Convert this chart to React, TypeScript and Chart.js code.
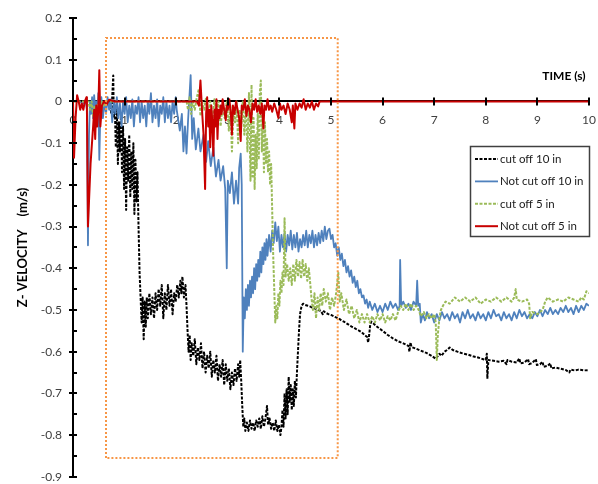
import React, { useEffect, useRef } from 'react';
import { Chart, registerables } from 'chart.js';

Chart.register(...registerables);

const seriesLabels = ['cut off 10 in', 'Not cut off 10 in', 'cut off 5 in', 'Not cut off 5 in'];
const xTickValues = [0, 1, 2, 3, 4, 5, 6, 7, 8, 9, 10];
const yTickValues = [0.2, 0.1, 0, -0.1, -0.2, -0.3, -0.4, -0.5, -0.6, -0.7, -0.8, -0.9];
const xTitle = 'TIME (s)';
const yTitle = 'Z- VELOCITY    (m/s)';

// dotted highlight rectangle (time, velocity)
const highlightBox: [number, number][] = [[0.64, -0.855], [0.64, 0.152], [5.13, 0.152], [5.13, -0.855], [0.64, -0.855]];

// cut off 10 in (black dashed)
const cutOff10In: [number, number][] = [
  [0.72, 0.0], [0.74, -0.03], [0.76, 0.01], [0.78, 0.062], [0.79, -0.04], [0.81, -0.01], [0.83, -0.11], [0.85, -0.02], [0.87, -0.15], [0.89, -0.05],
  [0.91, -0.12], [0.93, -0.03], [0.95, -0.17], [0.97, -0.06], [0.99, -0.21], [1.01, -0.09], [1.03, -0.26], [1.05, -0.11], [1.07, -0.19], [1.09, -0.08],
  [1.11, -0.23], [1.13, -0.12], [1.15, -0.21], [1.17, -0.1], [1.19, -0.27], [1.21, -0.14], [1.23, -0.24], [1.25, -0.17], [1.27, -0.3], [1.29, -0.41],
  [1.31, -0.47], [1.33, -0.53], [1.35, -0.47], [1.37, -0.57], [1.39, -0.48], [1.41, -0.54], [1.43, -0.47], [1.45, -0.52], [1.48, -0.46], [1.51, -0.51],
  [1.54, -0.47], [1.57, -0.52], [1.6, -0.46], [1.63, -0.5], [1.66, -0.45], [1.69, -0.49], [1.72, -0.44], [1.75, -0.52], [1.78, -0.46], [1.81, -0.5],
  [1.84, -0.44], [1.87, -0.49], [1.9, -0.45], [1.93, -0.51], [1.96, -0.46], [1.99, -0.48], [2.02, -0.44], [2.05, -0.47], [2.08, -0.43], [2.1, -0.46],
  [2.12, -0.42], [2.15, -0.47], [2.18, -0.44], [2.2, -0.49], [2.22, -0.55], [2.24, -0.6], [2.26, -0.56], [2.28, -0.62], [2.3, -0.58], [2.33, -0.61],
  [2.36, -0.57], [2.39, -0.63], [2.42, -0.59], [2.45, -0.62], [2.48, -0.58], [2.51, -0.64], [2.54, -0.6], [2.57, -0.65], [2.6, -0.61], [2.63, -0.64],
  [2.66, -0.6], [2.69, -0.66], [2.72, -0.62], [2.75, -0.65], [2.78, -0.61], [2.81, -0.67], [2.84, -0.63], [2.87, -0.66], [2.9, -0.62], [2.93, -0.68],
  [2.96, -0.63], [2.99, -0.67], [3.02, -0.64], [3.05, -0.69], [3.08, -0.65], [3.11, -0.68], [3.14, -0.64], [3.17, -0.67], [3.2, -0.63], [3.22, -0.66],
  [3.24, -0.62], [3.26, -0.67], [3.28, -0.73], [3.3, -0.78], [3.32, -0.76], [3.34, -0.79], [3.37, -0.77], [3.4, -0.79], [3.43, -0.765], [3.46, -0.785],
  [3.49, -0.77], [3.52, -0.79], [3.55, -0.765], [3.58, -0.78], [3.61, -0.76], [3.64, -0.785], [3.67, -0.755], [3.7, -0.78], [3.73, -0.76], [3.76, -0.73],
  [3.78, -0.775], [3.81, -0.76], [3.84, -0.785], [3.87, -0.77], [3.9, -0.79], [3.93, -0.765], [3.96, -0.79], [3.99, -0.775], [4.02, -0.8], [4.04, -0.78],
  [4.06, -0.74], [4.08, -0.78], [4.1, -0.7], [4.12, -0.76], [4.14, -0.69], [4.16, -0.75], [4.18, -0.66], [4.2, -0.72], [4.22, -0.68], [4.24, -0.74],
  [4.26, -0.69], [4.28, -0.73], [4.3, -0.67], [4.32, -0.71], [4.34, -0.65], [4.36, -0.6], [4.38, -0.55], [4.4, -0.51], [4.43, -0.49], [4.46, -0.485],
  [4.5, -0.488], [4.55, -0.49], [4.6, -0.492], [4.65, -0.495], [4.7, -0.497], [4.75, -0.5], [4.8, -0.502], [4.84, -0.51], [4.86, -0.503], [4.9, -0.507],
  [4.95, -0.51], [5.0, -0.512], [5.05, -0.515], [5.1, -0.518], [5.15, -0.52], [5.2, -0.525], [5.25, -0.528], [5.3, -0.532], [5.35, -0.536], [5.4, -0.54],
  [5.45, -0.543], [5.5, -0.547], [5.55, -0.55], [5.6, -0.554], [5.65, -0.56], [5.7, -0.565], [5.72, -0.578], [5.74, -0.56], [5.76, -0.535], [5.78, -0.528],
  [5.82, -0.532], [5.86, -0.537], [5.9, -0.541], [6.0, -0.55], [6.1, -0.56], [6.2, -0.568], [6.3, -0.575], [6.4, -0.58], [6.5, -0.586], [6.52, -0.6],
  [6.54, -0.578], [6.56, -0.589], [6.65, -0.593], [6.75, -0.598], [6.85, -0.603], [6.95, -0.61], [7.03, -0.617], [7.06, -0.612], [7.1, -0.605], [7.14, -0.61],
  [7.2, -0.6], [7.26, -0.595], [7.3, -0.59], [7.36, -0.596], [7.45, -0.6], [7.55, -0.604], [7.65, -0.607], [7.75, -0.611], [7.85, -0.614], [7.95, -0.618],
  [8.0, -0.62], [8.02, -0.605], [8.03, -0.665], [8.05, -0.62], [8.15, -0.622], [8.25, -0.624], [8.35, -0.622], [8.4, -0.63], [8.42, -0.62], [8.5, -0.624],
  [8.6, -0.626], [8.65, -0.616], [8.67, -0.628], [8.75, -0.626], [8.82, -0.618], [8.84, -0.63], [8.9, -0.627], [8.97, -0.618], [8.99, -0.632], [9.05, -0.63],
  [9.1, -0.624], [9.12, -0.636], [9.2, -0.634], [9.25, -0.628], [9.27, -0.64], [9.35, -0.638], [9.45, -0.641], [9.55, -0.644], [9.62, -0.65], [9.64, -0.643],
  [9.72, -0.645], [9.8, -0.643], [9.9, -0.645], [10.0, -0.644],
];

// Not cut off 10 in (blue solid)
const notCutOff10In: [number, number][] = [
  [0, 0], [0.1, 0.0], [0.2, -0.005], [0.25, 0.0], [0.27, -0.02], [0.29, -0.345], [0.31, -0.08], [0.33, 0.0], [0.35, -0.03], [0.37, 0.01],
  [0.39, -0.04], [0.41, 0.015], [0.43, -0.02], [0.45, 0.0], [0.47, -0.05], [0.49, 0.02], [0.51, -0.14], [0.53, -0.03], [0.55, 0.01], [0.58, -0.04],
  [0.61, 0.0], [0.64, -0.03], [0.67, 0.01], [0.7, -0.02], [0.73, 0.005], [0.76, -0.05], [0.79, 0.0], [0.82, -0.03], [0.85, 0.01], [0.88, -0.04],
  [0.91, -0.005], [0.94, -0.06], [0.97, 0.0], [1.0, -0.03], [1.03, 0.01], [1.06, -0.05], [1.09, -0.01], [1.12, -0.04], [1.15, 0.005], [1.18, -0.06],
  [1.21, -0.01], [1.24, -0.03], [1.27, 0.01], [1.3, -0.05], [1.33, 0.0], [1.36, -0.04], [1.39, -0.01], [1.42, -0.06], [1.45, 0.0], [1.48, -0.03],
  [1.51, 0.02], [1.54, -0.05], [1.57, -0.01], [1.6, -0.04], [1.63, 0.005], [1.66, -0.06], [1.69, -0.01], [1.72, -0.03], [1.75, 0.01], [1.78, -0.05],
  [1.81, 0.0], [1.84, -0.04], [1.87, -0.01], [1.9, -0.05], [1.93, 0.0], [1.96, -0.03], [1.99, 0.01], [2.01, -0.02], [2.07, -0.07], [2.11, -0.03],
  [2.14, -0.12], [2.17, -0.06], [2.2, -0.125], [2.23, -0.045], [2.28, 0.063], [2.31, -0.09], [2.34, -0.04], [2.38, -0.115], [2.43, -0.065], [2.47, -0.12],
  [2.53, -0.08], [2.58, -0.145], [2.62, -0.095], [2.67, -0.155], [2.72, -0.11], [2.77, -0.18], [2.82, -0.14], [2.86, -0.19], [2.91, -0.155], [2.95, -0.21],
  [2.98, -0.4], [3.0, -0.19], [3.04, -0.22], [3.08, -0.17], [3.12, -0.245], [3.16, -0.19], [3.2, -0.245], [3.22, -0.16], [3.25, -0.125], [3.27, -0.2],
  [3.29, -0.6], [3.31, -0.47], [3.33, -0.52], [3.35, -0.45], [3.37, -0.5], [3.39, -0.44], [3.41, -0.49], [3.43, -0.43], [3.45, -0.47], [3.47, -0.42],
  [3.49, -0.46], [3.51, -0.4], [3.53, -0.45], [3.55, -0.39], [3.57, -0.43], [3.59, -0.38], [3.61, -0.42], [3.63, -0.36], [3.65, -0.41], [3.67, -0.35],
  [3.69, -0.39], [3.71, -0.34], [3.73, -0.38], [3.75, -0.33], [3.77, -0.37], [3.8, -0.32], [3.83, -0.36], [3.86, -0.31], [3.89, -0.34], [3.92, -0.29],
  [3.95, -0.335], [3.98, -0.3], [4.01, -0.36], [4.04, -0.32], [4.07, -0.35], [4.1, -0.315], [4.13, -0.36], [4.16, -0.32], [4.19, -0.345], [4.22, -0.31],
  [4.25, -0.355], [4.28, -0.32], [4.31, -0.35], [4.34, -0.315], [4.37, -0.36], [4.4, -0.33], [4.43, -0.35], [4.46, -0.32], [4.49, -0.345], [4.52, -0.31],
  [4.55, -0.35], [4.58, -0.32], [4.61, -0.34], [4.64, -0.31], [4.67, -0.35], [4.7, -0.32], [4.73, -0.345], [4.76, -0.315], [4.79, -0.34], [4.82, -0.31],
  [4.85, -0.335], [4.88, -0.3], [4.91, -0.33], [4.94, -0.31], [4.97, -0.305], [5.0, -0.33], [5.03, -0.32], [5.06, -0.35], [5.09, -0.34], [5.12, -0.37],
  [5.15, -0.35], [5.18, -0.38], [5.21, -0.365], [5.24, -0.395], [5.27, -0.38], [5.3, -0.41], [5.33, -0.395], [5.36, -0.42], [5.39, -0.405], [5.42, -0.435],
  [5.45, -0.42], [5.48, -0.445], [5.51, -0.43], [5.54, -0.46], [5.57, -0.45], [5.6, -0.47], [5.63, -0.465], [5.66, -0.485], [5.69, -0.475], [5.72, -0.495],
  [5.75, -0.48], [5.8, -0.5], [5.85, -0.485], [5.9, -0.505], [5.95, -0.49], [6.0, -0.505], [6.05, -0.485], [6.1, -0.5], [6.15, -0.48], [6.2, -0.495],
  [6.25, -0.485], [6.3, -0.5], [6.33, -0.49], [6.34, -0.38], [6.36, -0.49], [6.4, -0.48], [6.45, -0.495], [6.5, -0.485], [6.55, -0.5], [6.6, -0.48],
  [6.65, -0.49], [6.67, -0.43], [6.69, -0.49], [6.72, -0.485], [6.74, -0.53], [6.78, -0.51], [6.82, -0.525], [6.86, -0.505], [6.9, -0.52], [6.95, -0.51],
  [7.0, -0.53], [7.05, -0.51], [7.1, -0.525], [7.15, -0.505], [7.2, -0.52], [7.25, -0.51], [7.3, -0.525], [7.35, -0.505], [7.4, -0.52], [7.45, -0.51],
  [7.5, -0.53], [7.55, -0.505], [7.6, -0.52], [7.65, -0.5], [7.7, -0.52], [7.75, -0.51], [7.8, -0.525], [7.85, -0.505], [7.9, -0.52], [7.95, -0.51],
  [8.0, -0.525], [8.05, -0.505], [8.1, -0.52], [8.15, -0.5], [8.2, -0.515], [8.25, -0.51], [8.3, -0.525], [8.35, -0.505], [8.4, -0.52], [8.45, -0.51],
  [8.5, -0.525], [8.55, -0.505], [8.6, -0.52], [8.65, -0.5], [8.7, -0.515], [8.75, -0.505], [8.8, -0.52], [8.85, -0.51], [8.9, -0.52], [8.95, -0.505],
  [9.0, -0.515], [9.05, -0.5], [9.1, -0.515], [9.15, -0.5], [9.2, -0.51], [9.25, -0.495], [9.3, -0.51], [9.35, -0.5], [9.4, -0.51], [9.45, -0.495],
  [9.5, -0.505], [9.55, -0.49], [9.6, -0.505], [9.65, -0.495], [9.7, -0.51], [9.75, -0.49], [9.8, -0.505], [9.85, -0.49], [9.9, -0.5], [9.95, -0.485],
  [10.0, -0.49],
];

// cut off 5 in (green dashed)
const cutOff5In: [number, number][] = [
  [0, 0], [0.3, 0], [0.33, -0.02], [0.36, 0.0], [0.39, -0.035], [0.42, -0.01], [0.45, -0.04], [0.48, -0.005], [0.52, -0.03], [0.56, 0.0],
  [0.6, -0.01], [0.65, 0.0], [2.2, 0.0], [2.23, -0.02], [2.26, 0.01], [2.29, -0.03], [2.32, 0.0], [2.36, -0.02], [2.4, 0.01], [2.44, 0.03],
  [2.47, -0.035], [2.5, 0.0], [2.54, -0.02], [2.58, 0.01], [2.62, -0.03], [2.66, 0.0], [2.7, -0.05], [2.74, 0.005], [2.78, -0.03], [2.82, 0.0],
  [2.86, -0.06], [2.9, -0.01], [2.94, -0.04], [2.98, 0.0], [3.02, -0.07], [3.05, -0.01], [3.08, -0.12], [3.11, -0.02], [3.14, -0.05], [3.17, 0.0],
  [3.2, -0.1], [3.23, -0.02], [3.26, -0.06], [3.29, 0.0], [3.32, -0.08], [3.35, -0.01], [3.38, -0.12], [3.41, 0.02], [3.44, -0.19], [3.46, 0.04],
  [3.48, -0.18], [3.5, -0.04], [3.52, -0.21], [3.54, -0.08], [3.56, -0.16], [3.58, -0.03], [3.6, -0.14], [3.62, 0.02], [3.64, 0.05], [3.66, -0.12],
  [3.68, -0.02], [3.7, -0.17], [3.72, -0.05], [3.74, -0.15], [3.76, -0.09], [3.78, -0.17], [3.8, -0.12], [3.82, -0.2], [3.84, -0.15], [3.86, -0.26],
  [3.88, -0.37], [3.9, -0.45], [3.92, -0.53], [3.94, -0.49], [3.96, -0.52], [3.98, -0.46], [4.0, -0.49], [4.02, -0.43], [4.04, -0.46], [4.06, -0.41],
  [4.08, -0.44], [4.1, -0.28], [4.12, -0.42], [4.15, -0.39], [4.18, -0.43], [4.21, -0.4], [4.24, -0.44], [4.27, -0.39], [4.3, -0.43], [4.33, -0.38],
  [4.36, -0.42], [4.39, -0.385], [4.42, -0.425], [4.45, -0.38], [4.48, -0.42], [4.51, -0.39], [4.54, -0.43], [4.57, -0.4], [4.6, -0.44], [4.62, -0.47],
  [4.65, -0.5], [4.68, -0.46], [4.71, -0.52], [4.74, -0.47], [4.77, -0.5], [4.8, -0.46], [4.83, -0.49], [4.86, -0.45], [4.9, -0.48], [4.94, -0.46],
  [4.98, -0.5], [5.02, -0.47], [5.06, -0.49], [5.1, -0.46], [5.14, -0.41], [5.17, -0.48], [5.2, -0.46], [5.25, -0.5], [5.3, -0.475], [5.35, -0.51],
  [5.4, -0.49], [5.45, -0.52], [5.5, -0.5], [5.55, -0.53], [5.6, -0.51], [5.65, -0.53], [5.7, -0.51], [5.75, -0.53], [5.8, -0.515], [5.85, -0.53],
  [5.9, -0.51], [5.95, -0.525], [6.0, -0.51], [6.05, -0.53], [6.1, -0.515], [6.15, -0.525], [6.2, -0.51], [6.25, -0.525], [6.3, -0.505], [6.35, -0.49],
  [6.4, -0.5], [6.45, -0.485], [6.5, -0.5], [6.55, -0.485], [6.6, -0.5], [6.65, -0.49], [6.7, -0.5], [6.74, -0.515], [6.8, -0.505], [6.85, -0.52],
  [6.9, -0.51], [6.95, -0.52], [7.0, -0.51], [7.03, -0.53], [7.05, -0.62], [7.07, -0.56], [7.1, -0.52], [7.13, -0.5], [7.17, -0.49], [7.22, -0.48],
  [7.3, -0.485], [7.4, -0.47], [7.5, -0.48], [7.6, -0.47], [7.7, -0.48], [7.8, -0.47], [7.9, -0.485], [8.0, -0.475], [8.1, -0.48], [8.2, -0.47],
  [8.3, -0.48], [8.4, -0.47], [8.5, -0.48], [8.55, -0.47], [8.58, -0.45], [8.6, -0.475], [8.7, -0.48], [8.8, -0.475], [8.84, -0.485], [8.86, -0.52],
  [8.9, -0.505], [9.0, -0.51], [9.1, -0.5], [9.15, -0.48], [9.2, -0.47], [9.3, -0.48], [9.4, -0.475], [9.5, -0.48], [9.6, -0.47], [9.7, -0.475],
  [9.8, -0.48], [9.85, -0.47], [9.9, -0.475], [9.95, -0.455], [10.0, -0.46],
];

// Not cut off 5 in (red solid)
const notCutOff5In: [number, number][] = [
  [0, 0], [0.02, -0.135], [0.05, -0.04], [0.08, 0.015], [0.11, 0.0], [0.14, -0.02], [0.17, -0.005], [0.2, -0.02], [0.23, 0.0], [0.26, 0.01],
  [0.27, -0.02], [0.29, -0.3], [0.34, -0.15], [0.39, -0.06], [0.41, -0.02], [0.43, -0.09], [0.45, -0.01], [0.47, -0.06], [0.49, -0.02], [0.51, 0.075],
  [0.53, -0.06], [0.56, -0.01], [0.6, 0.0], [0.65, -0.008], [0.7, 0.004], [0.8, 0.0], [1.2, 0.0], [1.8, 0.0], [2.4, 0.0], [2.44, -0.01],
  [2.47, 0.05], [2.5, -0.02], [2.53, -0.08], [2.56, -0.21], [2.58, -0.03], [2.6, 0.01], [2.62, -0.06], [2.64, -0.02], [2.66, -0.11], [2.68, -0.01],
  [2.7, -0.05], [2.72, -0.13], [2.74, -0.02], [2.76, -0.06], [2.78, 0.005], [2.8, -0.09], [2.82, -0.02], [2.84, -0.04], [2.86, -0.01], [2.88, -0.03],
  [2.9, 0.005], [2.93, -0.02], [2.96, -0.045], [2.98, -0.01], [3.0, -0.02], [3.03, 0.005], [3.06, -0.03], [3.08, -0.08], [3.1, -0.01], [3.13, -0.03],
  [3.16, 0.0], [3.19, -0.02], [3.22, -0.04], [3.25, -0.095], [3.27, -0.01], [3.3, -0.02], [3.33, 0.005], [3.36, -0.035], [3.39, -0.01], [3.42, -0.02],
  [3.45, -0.05], [3.48, -0.005], [3.51, -0.02], [3.54, 0.005], [3.57, -0.025], [3.6, -0.01], [3.63, -0.03], [3.66, -0.005], [3.69, -0.065], [3.71, -0.01],
  [3.74, -0.02], [3.77, 0.005], [3.8, -0.02], [3.83, -0.01], [3.86, -0.025], [3.9, -0.005], [3.94, -0.02], [3.98, -0.04], [4.01, -0.005], [4.04, -0.02],
  [4.08, -0.01], [4.12, -0.03], [4.16, -0.005], [4.2, -0.02], [4.24, -0.05], [4.26, -0.01], [4.29, -0.065], [4.31, -0.005], [4.35, -0.02], [4.39, -0.005],
  [4.43, -0.015], [4.47, 0.005], [4.51, -0.02], [4.55, -0.005], [4.59, -0.015], [4.63, 0.0], [4.67, -0.02], [4.71, -0.005], [4.75, -0.012], [4.78, 0.0],
  [10, 0.0],
];

const fmtY = (v: number) => (Math.abs(v) < 1e-9 ? '0' : Number(v).toFixed(1));

const decorPlugin = {
  id: 'decor',
  afterDatasetsDraw(chart: any) {
    const { ctx, chartArea, scales } = chart;
    const xs = scales.x;
    const ys = scales.y;
    const ax = chartArea.left;
    const ay = ys.getPixelForValue(0);
    ctx.save();
    ctx.strokeStyle = '#000';
    ctx.lineWidth = 2;
    ctx.setLineDash([]);
    ctx.beginPath();
    yTickValues.forEach((v) => {
      const p = Math.round(ys.getPixelForValue(v));
      ctx.moveTo(ax - 4, p);
      ctx.lineTo(ax + 4, p);
    });
    for (let i = 0; i < yTickValues.length - 1; i++) {
      const p = Math.round(ys.getPixelForValue((yTickValues[i] + yTickValues[i + 1]) / 2));
      ctx.moveTo(ax, p);
      ctx.lineTo(ax + 4, p);
    }
    xTickValues.forEach((v) => {
      if (v === 0) return;
      const p = Math.round(xs.getPixelForValue(v));
      ctx.moveTo(p, ay - 4);
      ctx.lineTo(p, ay + 4);
    });
    ctx.stroke();
    ctx.restore();
  },
  afterDraw(chart: any) {
    const { ctx } = chart;
    ctx.save();
    // x axis title
    ctx.font = 'bold 12px Lato';
    ctx.fillStyle = '#000';
    ctx.textAlign = 'center';
    ctx.textBaseline = 'middle';
    ctx.fillText(xTitle, 564, 76);
    // legend
    const lx = 470.5, ly = 146.5, lw = 119, lh = 90;
    ctx.fillStyle = '#fff';
    ctx.fillRect(lx, ly, lw, lh);
    ctx.strokeStyle = '#404040';
    ctx.lineWidth = 1.5;
    ctx.strokeRect(lx, ly, lw, lh);
    const items = chart.data.datasets.filter((d: any) => seriesLabels.includes(d.label));
    items.forEach((d: any, i: number) => {
      const ry = 159 + i * 22.4;
      ctx.beginPath();
      ctx.setLineDash(d.borderDash || []);
      ctx.strokeStyle = d.borderColor;
      ctx.lineWidth = d.borderWidth;
      ctx.moveTo(475, ry);
      ctx.lineTo(498, ry);
      ctx.stroke();
      ctx.setLineDash([]);
      ctx.fillStyle = '#1a1a1a';
      ctx.font = '11.5px Lato';
      ctx.textAlign = 'left';
      ctx.textBaseline = 'middle';
      ctx.fillText(d.label, 500, ry);
    });
    ctx.restore();
  },
};

export default function App() {
  const ref = useRef<HTMLCanvasElement>(null);
  useEffect(() => {
    const chart = new Chart(ref.current as HTMLCanvasElement, {
      type: 'line',
      data: {
        datasets: [
          {
            label: seriesLabels[0], data: cutOff10In as any, borderColor: '#000000', borderWidth: 2, borderDash: [3, 1.5],
            pointRadius: 0, tension: 0, fill: false, borderJoinStyle: 'round', order: 4,
          },
          {
            label: seriesLabels[1], data: notCutOff10In as any, borderColor: '#4F81BD', borderWidth: 1.8,
            pointRadius: 0, tension: 0, fill: false, borderJoinStyle: 'round', order: 3,
          },
          {
            label: seriesLabels[2], data: cutOff5In as any, borderColor: '#9BBB59', borderWidth: 2, borderDash: [3, 1.5],
            pointRadius: 0, tension: 0, fill: false, borderJoinStyle: 'round', order: 2,
          },
          {
            label: seriesLabels[3], data: notCutOff5In as any, borderColor: '#C80000', borderWidth: 2,
            pointRadius: 0, tension: 0, fill: false, borderJoinStyle: 'round', order: 1,
          },
          {
            label: 'highlight', data: highlightBox as any, borderColor: '#F79646', borderWidth: 2, borderDash: [2, 2],
            pointRadius: 0, tension: 0, fill: false, order: 0,
          },
        ],
      },
      options: {
        animation: false,
        responsive: false,
        devicePixelRatio: 1,
        events: [],
        layout: { padding: { left: 0, top: 18, right: 9, bottom: 7 } },
        plugins: { legend: { display: false }, tooltip: { enabled: false } },
        scales: {
          x: {
            type: 'linear',
            min: 0,
            max: 10,
            position: { y: 0 } as any,
            afterBuildTicks: (scale: any) => { scale.ticks = xTickValues.map((v) => ({ value: v })); },
            grid: { display: true, drawOnChartArea: false, drawTicks: true, tickLength: 12, color: 'rgba(0,0,0,0)' },
            border: { display: true, color: '#000', width: 2 },
            ticks: { padding: 0, color: '#404040', font: { family: 'Lato', size: 12 }, maxRotation: 0, autoSkip: false },
          },
          y: {
            type: 'linear',
            min: -0.9,
            max: 0.2,
            position: 'left',
            afterBuildTicks: (scale: any) => { scale.ticks = yTickValues.map((v) => ({ value: v })); },
            afterFit: (scale: any) => { scale.width = 73; },
            grid: { display: true, drawOnChartArea: false, drawTicks: true, tickLength: 11, color: 'rgba(0,0,0,0)' },
            border: { display: true, color: '#000', width: 2 },
            ticks: { padding: 0, color: '#404040', font: { family: 'Lato', size: 12 }, autoSkip: false, callback: (v: any) => fmtY(Number(v)) },
            title: { display: true, text: yTitle, color: '#000', font: { family: 'Lato', size: 13, weight: 'bold' }, padding: { top: 15, bottom: 0 } },
          },
        },
      } as any,
      plugins: [decorPlugin],
    });
    return () => chart.destroy();
  }, []);
  return (
    <div style={{ position: 'fixed', left: 0, top: 0, width: 598, height: 484, background: '#fff' }}>
      <canvas ref={ref} width={598} height={484} style={{ display: 'block' }} />
    </div>
  );
}
